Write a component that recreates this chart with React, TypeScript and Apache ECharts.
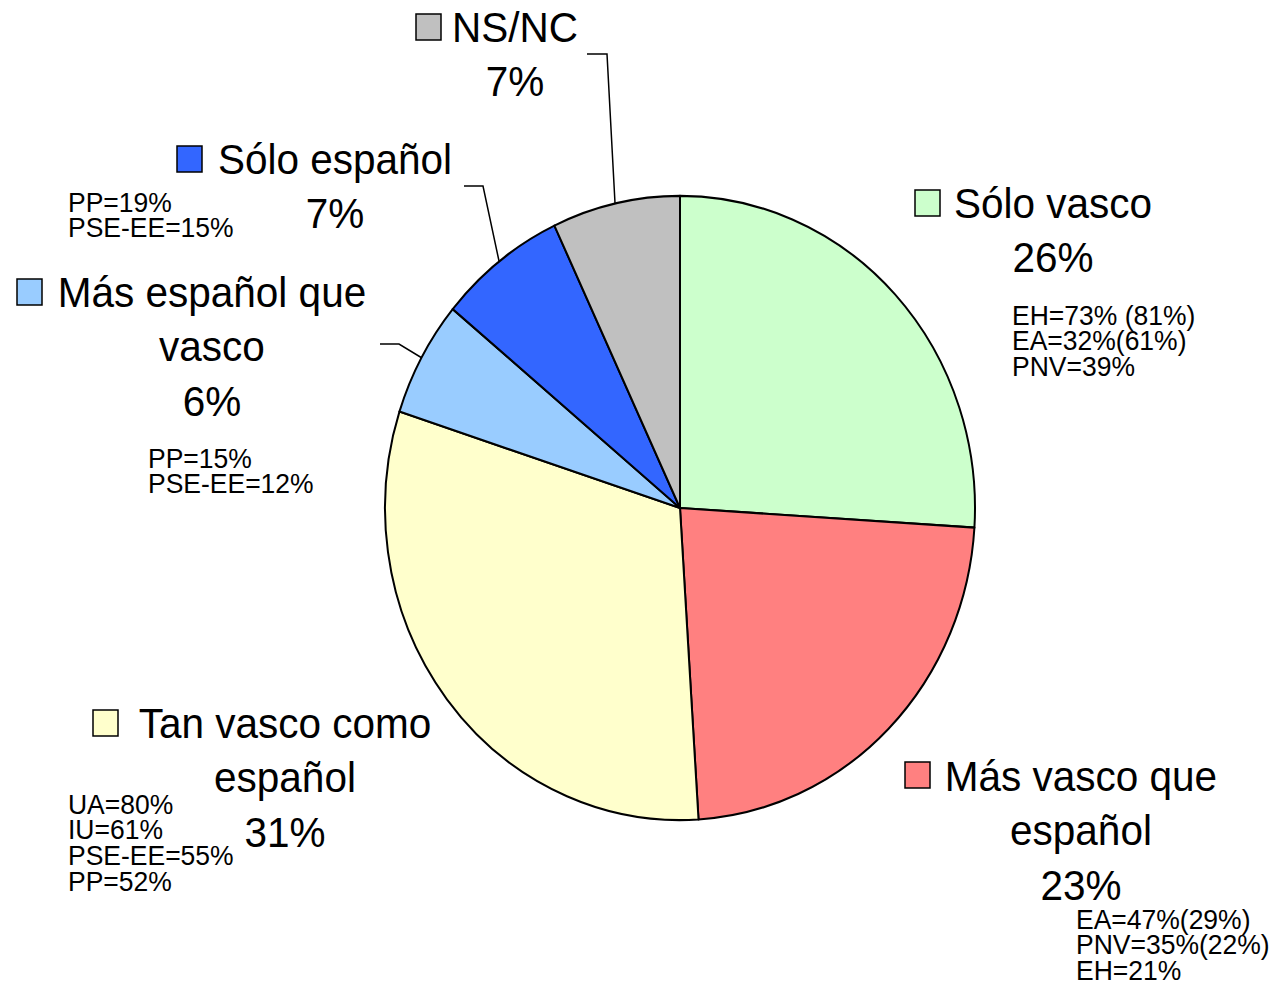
import React, { useEffect, useRef } from "react";
import * as echarts from "echarts";

// ---- data ----
const categories = [
  "Sólo vasco",
  "Más vasco que español",
  "Tan vasco como español",
  "Más español que vasco",
  "Sólo español",
  "NS/NC",
];
const values = [26, 23, 31, 6, 7, 7];
const notesSoloVasco = ["EH=73% (81%)", "EA=32%(61%)", "PNV=39%"];
const notesMasVasco = ["EA=47%(29%)", "PNV=35%(22%)", "EH=21%"];
const notesTanVasco = ["UA=80%", "IU=61%", "PSE-EE=55%", "PP=52%"];
const notesMasEspanol = ["PP=15%", "PSE-EE=12%"];
const notesSoloEspanol = ["PP=19%", "PSE-EE=15%"];
const notesNsNc: string[] = [];
const notes = [notesSoloVasco, notesMasVasco, notesTanVasco, notesMasEspanol, notesSoloEspanol, notesNsNc];

// ---- styles / layout ----
const colors = ["#CCFFCC", "#FF8080", "#FFFFCC", "#99CCFF", "#3366FF", "#C0C0C0"];
const W = 1272;
const H = 986;
const INNER_H = 932;
const S = H / INNER_H; // vertical stretch of the original picture
const Y = (py: number) => py / S;

const FONT = '"Liberation Sans", Arial, sans-serif';
const BIG = 40.5;
const SMALL = 26.5;
const LB = 54.5 / S;
const LN = 25.6 / S;

// page coordinates: label centre x, first line centre y, legend square, notes left x / first line centre y, wrap
const layout = [
  { cx: 1053, y0: 203, sq: [915, 190], nx: 1012, ny: 315, wrap: 0 },
  { cx: 1081, y0: 776, sq: [905, 762], nx: 1076, ny: 919, wrap: 3 },
  { cx: 285, y0: 723, sq: [93, 710], nx: 68, ny: 804, wrap: 3 },
  { cx: 212, y0: 292, sq: [17, 279], nx: 148, ny: 458, wrap: 3 },
  { cx: 335, y0: 159, sq: [177, 146], nx: 68, ny: 202, wrap: 0 },
  { cx: 515, y0: 27, sq: [416, 14], nx: 0, ny: 0, wrap: 0 },
];

const leaders = [
  { idx: 5, pts: [[587, 54], [607, 54], [615, 203]] },
  { idx: 4, pts: [[464, 186], [483, 186], [499, 261]] },
  { idx: 3, pts: [[380, 344], [399, 344], [422, 358]] },
];

function wrapName(name: string, n: number): string[] {
  if (!n) return [name];
  const w = name.split(" ");
  return [w.slice(0, n).join(" "), w.slice(n).join(" ")];
}

export default function App() {
  const ref = useRef<HTMLDivElement>(null);

  useEffect(() => {
    if (!ref.current) return;
    const chart = echarts.init(ref.current, undefined, { renderer: "svg" });

    const graphic: any[] = [];
    categories.forEach((name, i) => {
      const L = layout[i];
      const lines = [...wrapName(name, L.wrap), `${values[i]}%`];
      graphic.push({
        type: "rect",
        silent: true,
        shape: { x: L.sq[0], y: Y(L.sq[1]), width: 25, height: 26 / S },
        style: { fill: colors[i], stroke: "#000", lineWidth: 1.5 },
      });
      graphic.push({
        type: "text",
        silent: true,
        style: {
          text: lines.join("\n"),
          x: L.cx,
          y: Y(L.y0) - LB / 2,
          align: "center",
          verticalAlign: "top",
          font: `${BIG}px ${FONT}`,
          lineHeight: LB,
          fill: "#000",
        },
      });
      if (notes[i].length) {
        graphic.push({
          type: "text",
          silent: true,
          style: {
            text: notes[i].join("\n"),
            x: L.nx,
            y: Y(L.ny) - LN / 2,
            align: "left",
            verticalAlign: "top",
            font: `${SMALL}px ${FONT}`,
            lineHeight: LN,
            fill: "#000",
          },
        });
      }
    });
    leaders.forEach((l) => {
      graphic.push({
        type: "polyline",
        silent: true,
        shape: { points: l.pts.map((p) => [p[0], Y(p[1])]) },
        style: { stroke: "#000", lineWidth: 1.5, fill: "none" },
      });
    });

    chart.setOption({
      animation: false,
      backgroundColor: "#ffffff",
      series: [
        {
          type: "pie",
          silent: true,
          center: [680, Y(508)],
          radius: 295,
          startAngle: 90,
          clockwise: true,
          label: { show: false },
          labelLine: { show: false },
          itemStyle: { borderColor: "#000", borderWidth: 2 },
          data: categories.map((name, i) => ({
            name,
            value: values[i],
            itemStyle: { color: colors[i] },
          })),
        },
      ],
      graphic,
    });

    return () => chart.dispose();
  }, []);

  return (
    <div style={{ position: "absolute", left: 0, top: 0, width: W, height: H, background: "#fff", overflow: "hidden" }}>
      <div
        ref={ref}
        style={{
          width: W,
          height: INNER_H,
          transform: `scaleY(${S})`,
          transformOrigin: "0 0",
        }}
      />
    </div>
  );
}
